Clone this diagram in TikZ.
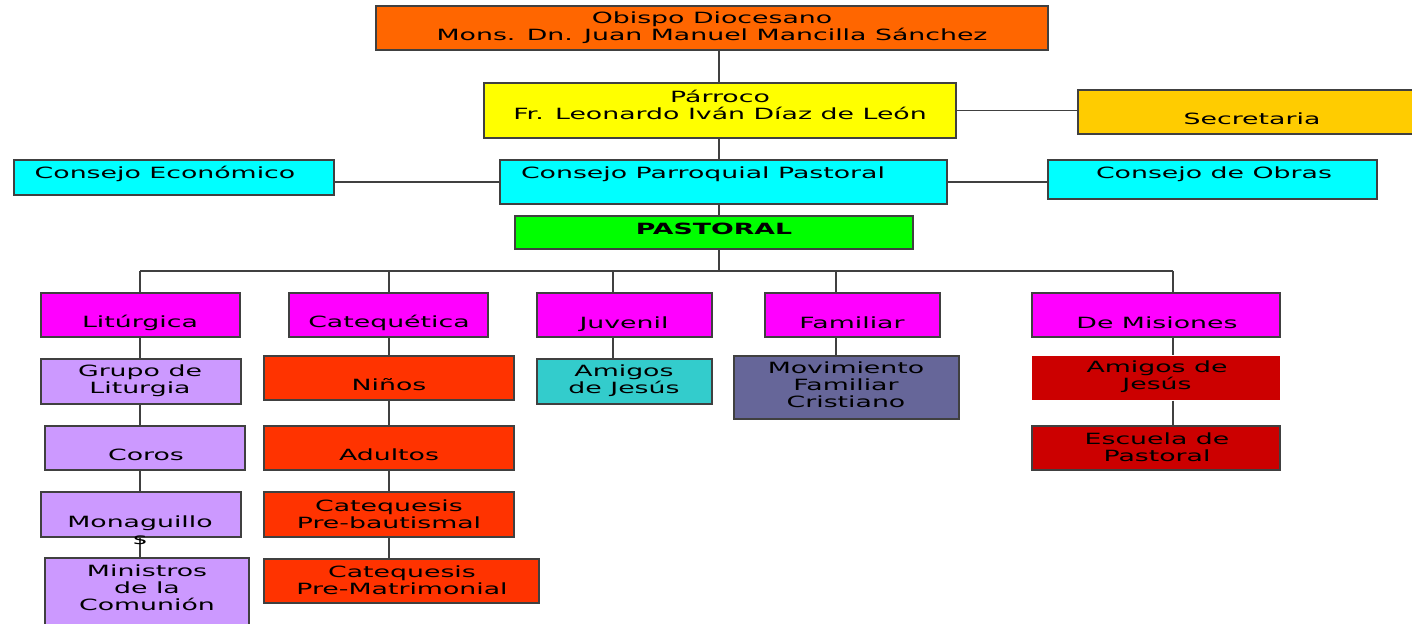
\documentclass[tikz,border=0pt]{standalone}
\usepackage{fontspec}
\setmainfont{DejaVu Sans}[FakeStretch=1.73]
\usetikzlibrary{fit}

\begin{document}
\begin{tikzpicture}[x=0.02cm, y=-0.02cm,
  caja/.style={draw=lineGray, line width=0.8pt, inner sep=0pt},
  texto/.style={font=\fontsize{8.8}{9.7}\selectfont, align=center, inner sep=0pt, text=black},
  linea/.style={draw=lineGray, line width=1pt}]

% Colori
\definecolor{colObispo}{HTML}{FF6600}
\definecolor{colParroco}{HTML}{FFFF00}
\definecolor{colSecre}{HTML}{FFCC00}
\definecolor{colConsejo}{HTML}{00FFFF}
\definecolor{colPastoral}{HTML}{00FF00}
\definecolor{colArea}{HTML}{FF00FF}
\definecolor{colLit}{HTML}{CC99FF}
\definecolor{colCat}{HTML}{FF3300}
\definecolor{colJuv}{HTML}{33CCCC}
\definecolor{colFam}{HTML}{666699}
\definecolor{colMis}{HTML}{CC0000}
\definecolor{lineGray}{HTML}{404040}

% Margini
\clip (0,0) rectangle (1412,623);

% Vertice
\node[caja, fill=colObispo, fit={(376,6) (1048,50)}] (obispo) {};
\node[caja, fill=colParroco, fit={(484,83) (956,138)}] (parroco) {};
\node[caja, fill=colSecre, fit={(1078,90) (1426,134)}] (secretaria) {};

% Consigli
\node[caja, fill=colConsejo, fit={(14,160) (334,195)}] (economico) {};
\node[caja, fill=colConsejo, fit={(500,160) (947,204)}] (cpp) {};
\node[caja, fill=colConsejo, fit={(1048,160) (1377,199)}] (obras) {};
\node[caja, fill=colPastoral, fit={(515,216) (913,249)}] (pastoral) {};

% Aree pastorali
\node[caja, fill=colArea, fit={(41,293) (240,337)}] (liturgica) {};
\node[caja, fill=colArea, fit={(289,293) (488,337)}] (catequetica) {};
\node[caja, fill=colArea, fit={(537,293) (712,337)}] (juvenil) {};
\node[caja, fill=colArea, fit={(765,293) (940,337)}] (familiar) {};
\node[caja, fill=colArea, fit={(1032,293) (1280,337)}] (misiones) {};

% Liturgica
\node[caja, fill=colLit, fit={(41,359) (241,404)}] (grupo) {};
\node[caja, fill=colLit, fit={(45,426) (245,470)}] (coros) {};
\node[caja, fill=colLit, fit={(41,492) (241,537)}] (monaguillos) {};
\node[caja, fill=colLit, fit={(45,558) (249,640)}] (ministros) {};

% Catequetica
\node[caja, fill=colCat, fit={(264,356) (514,400)}] (ninos) {};
\node[caja, fill=colCat, fit={(264,426) (514,470)}] (adultos) {};
\node[caja, fill=colCat, fit={(264,492) (514,537)}] (prebau) {};
\node[caja, fill=colCat, fit={(264,559) (539,603)}] (premat) {};

% Giovanile, famiglia, missioni
\node[caja, fill=colJuv, fit={(537,359) (712,404)}] (amigosJuv) {};
\node[caja, fill=colFam, fit={(734,356) (959,419)}] (movimiento) {};
\node[caja, fill=colMis, draw=none, fit={(1032,356) (1280,400)}] (amigosMis) {};
\node[caja, fill=colMis, fit={(1032,426) (1280,470)}] (escuela) {};

% Punti della sbarra
\coordinate (bus) at (719,271);
\coordinate (bLit) at (140,271);
\coordinate (bCat) at (389,271);
\coordinate (bJuv) at (613,271);
\coordinate (bFam) at (836,271);
\coordinate (bMis) at (1173,271);

% Linee verticali centrali
\draw[linea] (obispo.south -| bus) -- (parroco.north -| bus);
\draw[linea] (parroco.south -| bus) -- (cpp.north -| bus);
\draw[linea] (cpp.south -| bus) -- (pastoral.north -| bus);
\draw[linea] (pastoral.south -| bus) -- (bus);

% Linee laterali
\draw[linea] (parroco.east) -- (parroco.east -| secretaria.west);
\draw[linea] (cpp.west) -- (cpp.west -| economico.east);
\draw[linea] (cpp.east) -- (cpp.east -| obras.west);

% Sbarra e discese
\draw[linea] (bLit) -- (bMis);
\draw[linea] (bLit) -- (liturgica.north -| bLit);
\draw[linea] (bCat) -- (catequetica.north -| bCat);
\draw[linea] (bJuv) -- (juvenil.north -| bJuv);
\draw[linea] (bFam) -- (familiar.north -| bFam);
\draw[linea] (bMis) -- (misiones.north -| bMis);

% Colonne
\draw[linea] (liturgica.south -| bLit) -- (grupo.north -| bLit);
\draw[linea] (grupo.south -| bLit) -- (coros.north -| bLit);
\draw[linea] (coros.south -| bLit) -- (monaguillos.north -| bLit);
\draw[linea] (monaguillos.south -| bLit) -- (ministros.north -| bLit);
\draw[linea] (catequetica.south -| bCat) -- (ninos.north -| bCat);
\draw[linea] (ninos.south -| bCat) -- (adultos.north -| bCat);
\draw[linea] (adultos.south -| bCat) -- (prebau.north -| bCat);
\draw[linea] (prebau.south -| bCat) -- (premat.north -| bCat);
\draw[linea] (juvenil.south -| bJuv) -- (amigosJuv.north -| bJuv);
\draw[linea] (familiar.south -| bFam) -- (movimiento.north -| bFam);
\draw[linea] (misiones.south -| bMis) -- (amigosMis.north -| bMis);
\draw[linea] (amigosMis.south -| bMis) -- (escuela.north -| bMis);

% Testi
\node[texto] (tObispo) at (712,28) {Obispo Diocesano\\Mons. Dn. Juan Manuel Mancilla Sánchez};
\node[texto] (tParroco) at (720,104.5) {Párroco\\Fr. Leonardo Iván Díaz de León};
\node[texto] (tSecre) at (1252,119) {Secretaria};
\node[texto] (tEconomico) at (165,174) {Consejo Económico};
\node[texto] (tCpp) at (703,174) {Consejo Parroquial Pastoral};
\node[texto] (tObras) at (1214,174) {Consejo de Obras};
\node[texto, font=\fontsize{8.8}{9.7}\selectfont\bfseries] (tPastoral) at (714,229) {PASTORAL};

\node[texto] (tLiturgica) at (140,323) {Litúrgica};
\node[texto] (tCatequetica) at (389,323) {Catequética};
\node[texto] (tJuvenil) at (624,324) {Juvenil};
\node[texto] (tFamiliar) at (852,323) {Familiar};
\node[texto] (tMisiones) at (1157,323) {De Misiones};

\node[texto] (tGrupo) at (140,381) {Grupo de\\Liturgia};
\node[texto] (tCoros) at (146,455) {Coros};
\node[texto] (tMonaguillos) at (140,530) {Monaguillo\\s};
\node[texto] (tMinistros) at (147,588) {Ministros\\de la\\Comunión};

\node[texto] (tNinos) at (389,385) {Niños};
\node[texto] (tAdultos) at (389,455) {Adultos};
\node[texto] (tPrebau) at (389,514) {Catequesis\\Pre-bautismal};
\node[texto] (tPremat) at (402,580) {Catequesis\\Pre-Matrimonial};

\node[texto] (tAmigosJuv) at (624,381) {Amigos\\de Jesús};
\node[texto] (tMovimiento) at (846,385) {Movimiento\\Familiar\\Cristiano};
\node[texto] (tAmigosMis) at (1157,377) {Amigos de\\Jesús};
\node[texto] (tEscuela) at (1157,447) {Escuela de\\Pastoral};

\end{tikzpicture}
\end{document}
